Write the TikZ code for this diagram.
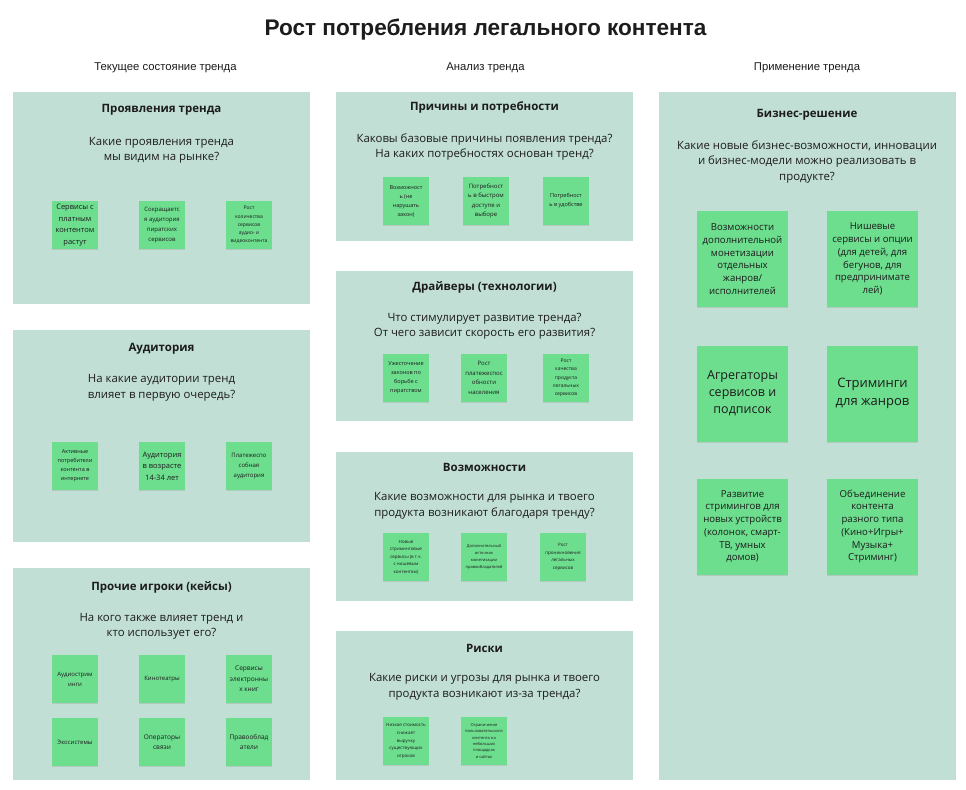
\documentclass[tikz,border=0pt]{standalone}
\usepackage{fontspec}
\setmainfont{Open Sans}
\newfontfamily\headfont{Liberation Sans}
\usetikzlibrary{shadows}

% one screen pixel
\newdimen\px \px=0.75pt
\newcommand{\tsz}[2]{\fontsize{\the\dimexpr#1\px\relax}{\the\dimexpr#2\px\relax}\selectfont}

\definecolor{panelc}{RGB}{194,223,214}
\definecolor{stickc}{RGB}{109,221,142}
\definecolor{inkc}{RGB}{28,28,28}

\tikzset{
  panel/.style={fill=panelc, draw=none, anchor=north west, inner sep=0pt, outer sep=0pt,
                minimum width=297\px},
  ptitle/.style={font=\bfseries\tsz{11.5}{15}, text=inkc, inner sep=0pt},
  pquest/.style={font=\tsz{11.4}{15.5}, align=center, text=inkc, inner sep=0pt},
  colhead/.style={font=\headfont\tsz{11.3}{13}, text=inkc, inner sep=0pt},
  sticky/.style={fill=stickc, draw=none, inner sep=0pt, align=center, text=inkc,
                 minimum width=46\px, minimum height=48\px, font=\tsz{6}{10},
                 drop shadow={shadow xshift=0.2pt, shadow yshift=-0.9pt, opacity=0.22}},
  bigsticky/.style={sticky, minimum width=91\px, minimum height=96\px, font=\tsz{9.6}{12.7}},
}

\begin{document}
\begin{tikzpicture}[x=0.75pt, y=-0.75pt]
\useasboundingbox[fill=white] (0,0) rectangle (966,789);

% heading
\node[font=\headfont\bfseries\tsz{22.6}{25}, text=inkc, inner sep=0pt] (title) at (485.5,30) {Рост потребления легального контента};
\node[colhead] (colA) at (165.5,68) {Текущее состояние тренда};
\node[colhead] (colB) at (485.5,68) {Анализ тренда};
\node[colhead] (colC) at (807,68) {Применение тренда};

% panels
\node[panel, minimum height=212\px] (pL1) at (13,92) {};
\node[panel, minimum height=212\px] (pL2) at (13,330) {};
\node[panel, minimum height=212\px] (pL3) at (13,568) {};
\node[panel, minimum height=149\px] (pM1) at (336,92) {};
\node[panel, minimum height=150\px] (pM2) at (336,271) {};
\node[panel, minimum height=149\px] (pM3) at (336,452) {};
\node[panel, minimum height=149\px] (pM4) at (336,631) {};
\node[panel, minimum height=688\px] (pR) at (659,92) {};

% left column: manifestations
\node[ptitle] (tL1) at (161.5,110) {Проявления тренда};
\node[pquest] (qL1) at (161.5,150.5) {Какие проявления тренда\\мы видим на рынке?};
\node[sticky, font=\tsz{7.5}{11.5}] (sL1a) at (75,225) {Сервисы с\\платным\\контентом\\растут};
\node[sticky, font=\tsz{6}{10}] (sL1b) at (162,225) {Сокращаетс\\я аудитория\\пиратских\\сервисов};
\node[sticky, font=\tsz{5}{8.2}] (sL1c) at (249,225) {Рост\\количества\\сервисов\\аудио- и\\видеоконтента};

% left column: audience
\node[ptitle] (tL2) at (161.5,349) {Аудитория};
\node[pquest] (qL2) at (161.5,388) {На какие аудитории тренд\\влияет в первую очередь?};
\node[sticky, font=\tsz{5.5}{9}] (sL2a) at (75,466) {Активные\\потребители\\контента в\\интернете};
\node[sticky, font=\tsz{7.5}{11.5}] (sL2b) at (162,466) {Аудитория\\в возрасте\\14-34 лет};
\node[sticky, font=\tsz{6}{10}] (sL2c) at (249,466) {Платежеспо\\собная\\аудитория};

% left column: other players
\node[ptitle] (tL3) at (161.5,587) {Прочие игроки (кейсы)};
\node[pquest] (qL3) at (161.5,626.5) {На кого также влияет тренд и\\кто использует его?};
\node[sticky, font=\tsz{6}{10}] (sL3a) at (75,679) {Аудиострим\\инги};
\node[sticky, font=\tsz{6}{10}] (sL3b) at (162,679) {Кинотеатры};
\node[sticky, font=\tsz{6.5}{10.5}] (sL3c) at (249,679) {Сервисы\\электронны\\х книг};
\node[sticky, font=\tsz{6}{10}] (sL3d) at (75,742) {Экосистемы};
\node[sticky, font=\tsz{6.5}{10.5}] (sL3e) at (162,742) {Операторы\\связи};
\node[sticky, font=\tsz{6.5}{10.5}] (sL3f) at (249,742) {Правооблад\\атели};

% middle column: causes and needs
\node[ptitle] (tM1) at (484.5,107) {Причины и потребности};
\node[pquest] (qM1) at (484.5,147) {Каковы базовые причины появления тренда?\\На каких потребностях основан тренд?};
\node[sticky, font=\tsz{5.5}{9}] (sM1a) at (406,201) {Возможност\\ь (не\\нарушать\\закон)};
\node[sticky, font=\tsz{6}{9.5}] (sM1b) at (486,201) {Потребност\\ь в быстром\\доступе и\\выборе};
\node[sticky, font=\tsz{5.5}{9}] (sM1c) at (566,201) {Потребност\\ь в удобстве};

% middle column: drivers
\node[ptitle] (tM2) at (484.5,287) {Драйверы (технологии)};
\node[pquest] (qM2) at (484.5,326) {Что стимулирует развитие тренда?\\От чего зависит скорость его развития?};
\node[sticky, font=\tsz{5.5}{9}] (sM2a) at (406,378) {Ужесточение\\законов по\\борьбе с\\пиратством};
\node[sticky, font=\tsz{6}{9.5}] (sM2b) at (484,378) {Рост\\платежеспос\\обности\\населения};
\node[sticky, font=\tsz{5}{8.2}] (sM2c) at (566,378) {Рост\\качества\\продукта\\легальных\\сервисов};

% middle column: opportunities
\node[ptitle] (tM3) at (484.5,467) {Возможности};
\node[pquest] (qM3) at (484.5,506) {Какие возможности для рынка и твоего\\продукта возникают благодаря тренду?};
\node[sticky, font=\tsz{4.5}{7.6}] (sM3a) at (406,557) {Новые\\стриминговые\\сервисы (в т.ч.\\с нишевым\\контентом)};
\node[sticky, font=\tsz{4}{7}] (sM3b) at (484,557) {Дополнительный\\источник\\монетизации\\правообладателей};
\node[sticky, font=\tsz{4.5}{7.6}] (sM3c) at (563,557) {Рост\\проникновения\\легальных\\сервисов};

% middle column: risks
\node[ptitle] (tM4) at (484.5,648) {Риски};
\node[pquest] (qM4) at (484.5,687) {Какие риски и угрозы для рынка и твоего\\продукта возникают из-за тренда?};
\node[sticky, font=\tsz{4.5}{7.6}] (sM4a) at (406,741) {Низкая стоимость\\снижает\\выручку\\существующих\\игроков};
\node[sticky, font=\tsz{4}{6.3}] (sM4b) at (484,741) {Ограничение\\пользовательского\\контента на\\небольших\\площадках\\и сайтах};

% right column: business solution
\node[ptitle] (tR) at (807,115) {Бизнес-решение};
\node[pquest] (qR) at (807,161.5) {Какие новые бизнес-возможности, инновации\\и бизнес-модели можно реализовать в\\продукте?};
\node[bigsticky] (sRa) at (742.5,259) {Возможности\\дополнительной\\монетизации\\отдельных\\жанров/\\исполнителей};
\node[bigsticky] (sRb) at (872.5,259) {Нишевые\\сервисы и опции\\(для детей, для\\бегунов, для\\предпринимате\\лей)};
\node[bigsticky, font=\tsz{12.5}{17}] (sRc) at (742.5,393.5) {Агрегаторы\\сервисов и\\подписок};
\node[bigsticky, font=\tsz{13}{17.5}] (sRd) at (872.5,393.5) {Стриминги\\для жанров};
\node[bigsticky] (sRe) at (742.5,526.5) {Развитие\\стримингов для\\новых устройств\\(колонок, смарт-\\ТВ, умных\\домов)};
\node[bigsticky] (sRf) at (872.5,526.5) {Объединение\\контента\\разного типа\\(Кино+Игры+\\Музыка+\\Стриминг)};
\end{tikzpicture}
\end{document}
